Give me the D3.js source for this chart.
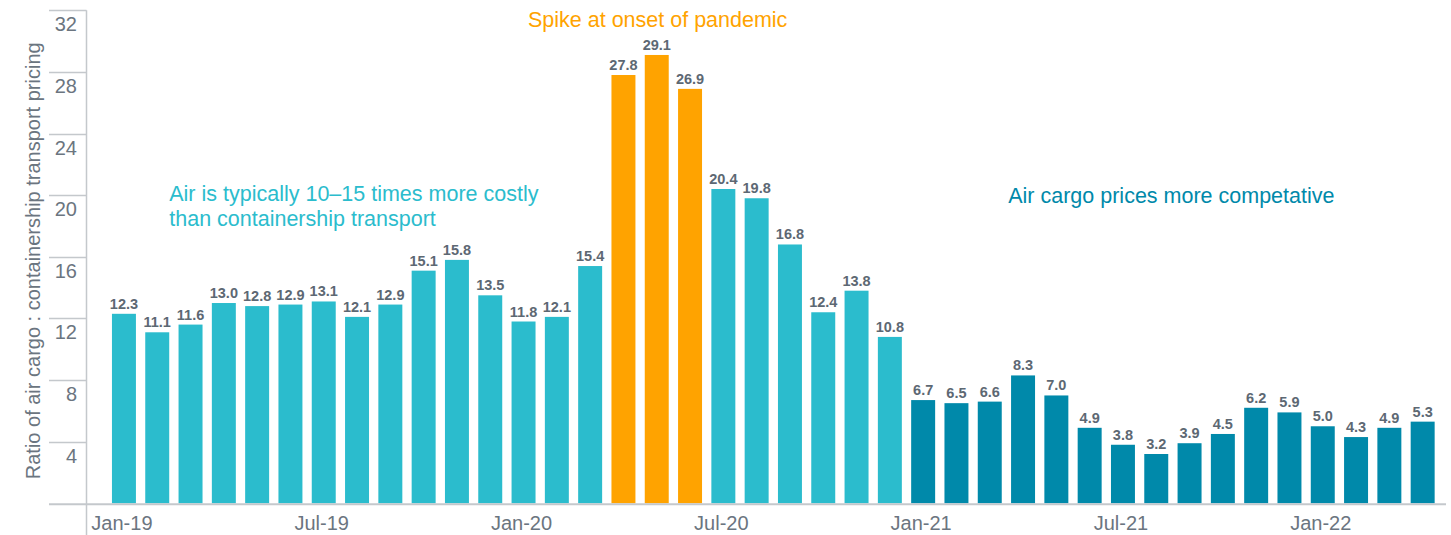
<!DOCTYPE html>
<html>
<head>
<meta charset="utf-8">
<script src="https://cdn.jsdelivr.net/npm/d3@7"></script>
<style>
  html, body { margin: 0; padding: 0; background: #fff; }
  svg { display: block; font-family: "Liberation Sans", Arial, Helvetica, sans-serif; }
  .tick-label, .x-label, .axis-title { fill: #6b7580; font-size: 20px; }
  .val { fill: #5d6873; font-size: 14.5px; font-weight: bold; }
</style>
</head>
<body>
<div id="chart"></div>
<script>
// --- Data ---
const months = [
  "Jan-19","Feb-19","Mar-19","Apr-19","May-19","Jun-19","Jul-19","Aug-19","Sep-19","Oct-19","Nov-19","Dec-19",
  "Jan-20","Feb-20","Mar-20","Apr-20","May-20","Jun-20","Jul-20","Aug-20","Sep-20","Oct-20","Nov-20","Dec-20",
  "Jan-21","Feb-21","Mar-21","Apr-21","May-21","Jun-21","Jul-21","Aug-21","Sep-21","Oct-21","Nov-21","Dec-21",
  "Jan-22","Feb-22","Mar-22","Apr-22"
];
const ratios = [
  12.3, 11.1, 11.6, 13.0, 12.8, 12.9, 13.1, 12.1, 12.9, 15.1, 15.8, 13.5,
  11.8, 12.1, 15.4, 27.8, 29.1, 26.9, 20.4, 19.8, 16.8, 12.4, 13.8, 10.8,
  6.7, 6.5, 6.6, 8.3, 7.0, 4.9, 3.8, 3.2, 3.9, 4.5, 6.2, 5.9,
  5.0, 4.3, 4.9, 5.3
];
// which period each month belongs to
const phases = [
  "typical","typical","typical","typical","typical","typical","typical","typical","typical","typical","typical","typical",
  "typical","typical","typical","spike","spike","spike","typical","typical","typical","typical","typical","typical",
  "competitive","competitive","competitive","competitive","competitive","competitive","competitive","competitive","competitive","competitive","competitive","competitive",
  "competitive","competitive","competitive","competitive"
];
const xTickLabels = ["Jan-19", "Jul-19", "Jan-20", "Jul-20", "Jan-21", "Jul-21", "Jan-22"];
const yTicks = [4, 8, 12, 16, 20, 24, 28, 32];

const phaseColor = { typical: "#2bbccd", spike: "#ffa300", competitive: "#0089aa" };

// annotations anchored on a month + value
const notes = [
  { lines: ["Air is typically 10\u201315 times more costly", "than containership transport"], month: "Feb-19", value: 19.6, dx: 24, anchor: "start", color: phaseColor.typical },
  { lines: ["Spike at onset of pandemic"], month: "Jul-20", value: 30.9, dx: 76, anchor: "end", color: phaseColor.spike },
  { lines: ["Air cargo prices more competative"], month: "Dec-21", value: 19.5, dx: 57, anchor: "end", color: phaseColor.competitive }
];

// --- Layout ---
const width = 1451, height = 535;
const axisX = 86.5, tickLeft = 49, baseRight = 1446;

const svg = d3.select("#chart").append("svg").attr("width", width).attr("height", height);

const x = d3.scaleBand().domain(months).range([95.3, 1451.3]).paddingInner(0.28).paddingOuter(0.5);
const y = d3.scaleLinear().domain([0, 32]).range([503.3, 10.3]);

// y grid ticks (short lines left of axis)
const yAxis = svg.append("g");
yAxis.selectAll("line.tk").data(yTicks).enter().append("line")
  .attr("x1", tickLeft).attr("x2", axisX)
  .attr("y1", d => Math.round(y(d)) + 0.5).attr("y2", d => Math.round(y(d)) + 0.5)
  .attr("stroke", "#c4c8cc").attr("stroke-width", 1.3);
yAxis.selectAll("text").data(yTicks).enter().append("text")
  .attr("class", "tick-label")
  .attr("x", 77).attr("y", d => y(d) + 21)
  .attr("text-anchor", "end")
  .text(d => d);

// vertical axis line
svg.append("line").attr("x1", axisX).attr("x2", axisX).attr("y1", y(32)).attr("y2", height)
  .attr("stroke", "#c4c8cc").attr("stroke-width", 1.5);

// axis title
svg.append("text").attr("class", "axis-title")
  .attr("transform", `translate(40, ${(y(0) + y(32)) / 2 + 4}) rotate(-90)`)
  .attr("text-anchor", "middle")
  .text("Ratio of air cargo : containership transport pricing");

// bars
svg.append("g").selectAll("rect").data(months).enter().append("rect")
  .attr("x", d => x(d))
  .attr("width", x.bandwidth())
  .attr("y", (d, i) => y(ratios[i]))
  .attr("height", (d, i) => y(0) - y(ratios[i]))
  .attr("fill", (d, i) => phaseColor[phases[i]]);

// value labels
svg.append("g").selectAll("text").data(months).enter().append("text")
  .attr("class", "val")
  .attr("x", d => x(d) + x.bandwidth() / 2)
  .attr("y", (d, i) => y(ratios[i]) - 5)
  .attr("text-anchor", "middle")
  .text((d, i) => ratios[i].toFixed(1));

// baseline
svg.append("line").attr("x1", tickLeft).attr("x2", baseRight).attr("y1", y(0) + 1).attr("y2", y(0) + 1)
  .attr("stroke", "#c4c8cc").attr("stroke-width", 2);

// x labels
svg.append("g").selectAll("text").data(xTickLabels).enter().append("text")
  .attr("class", "x-label")
  .attr("x", d => x(d) + x.bandwidth() / 2 - 2)
  .attr("y", 530)
  .attr("text-anchor", "middle")
  .text(d => d);

// annotations
notes.forEach(n => {
  const t = svg.append("text")
    .attr("x", x(n.month) + n.dx).attr("y", y(n.value))
    .attr("text-anchor", n.anchor)
    .attr("fill", n.color).style("font-size", "21.5px");
  n.lines.forEach((line, i) => {
    t.append("tspan").attr("x", x(n.month) + n.dx).attr("dy", i === 0 ? 0 : 25).text(line);
  });
});
</script>
</body>
</html>
